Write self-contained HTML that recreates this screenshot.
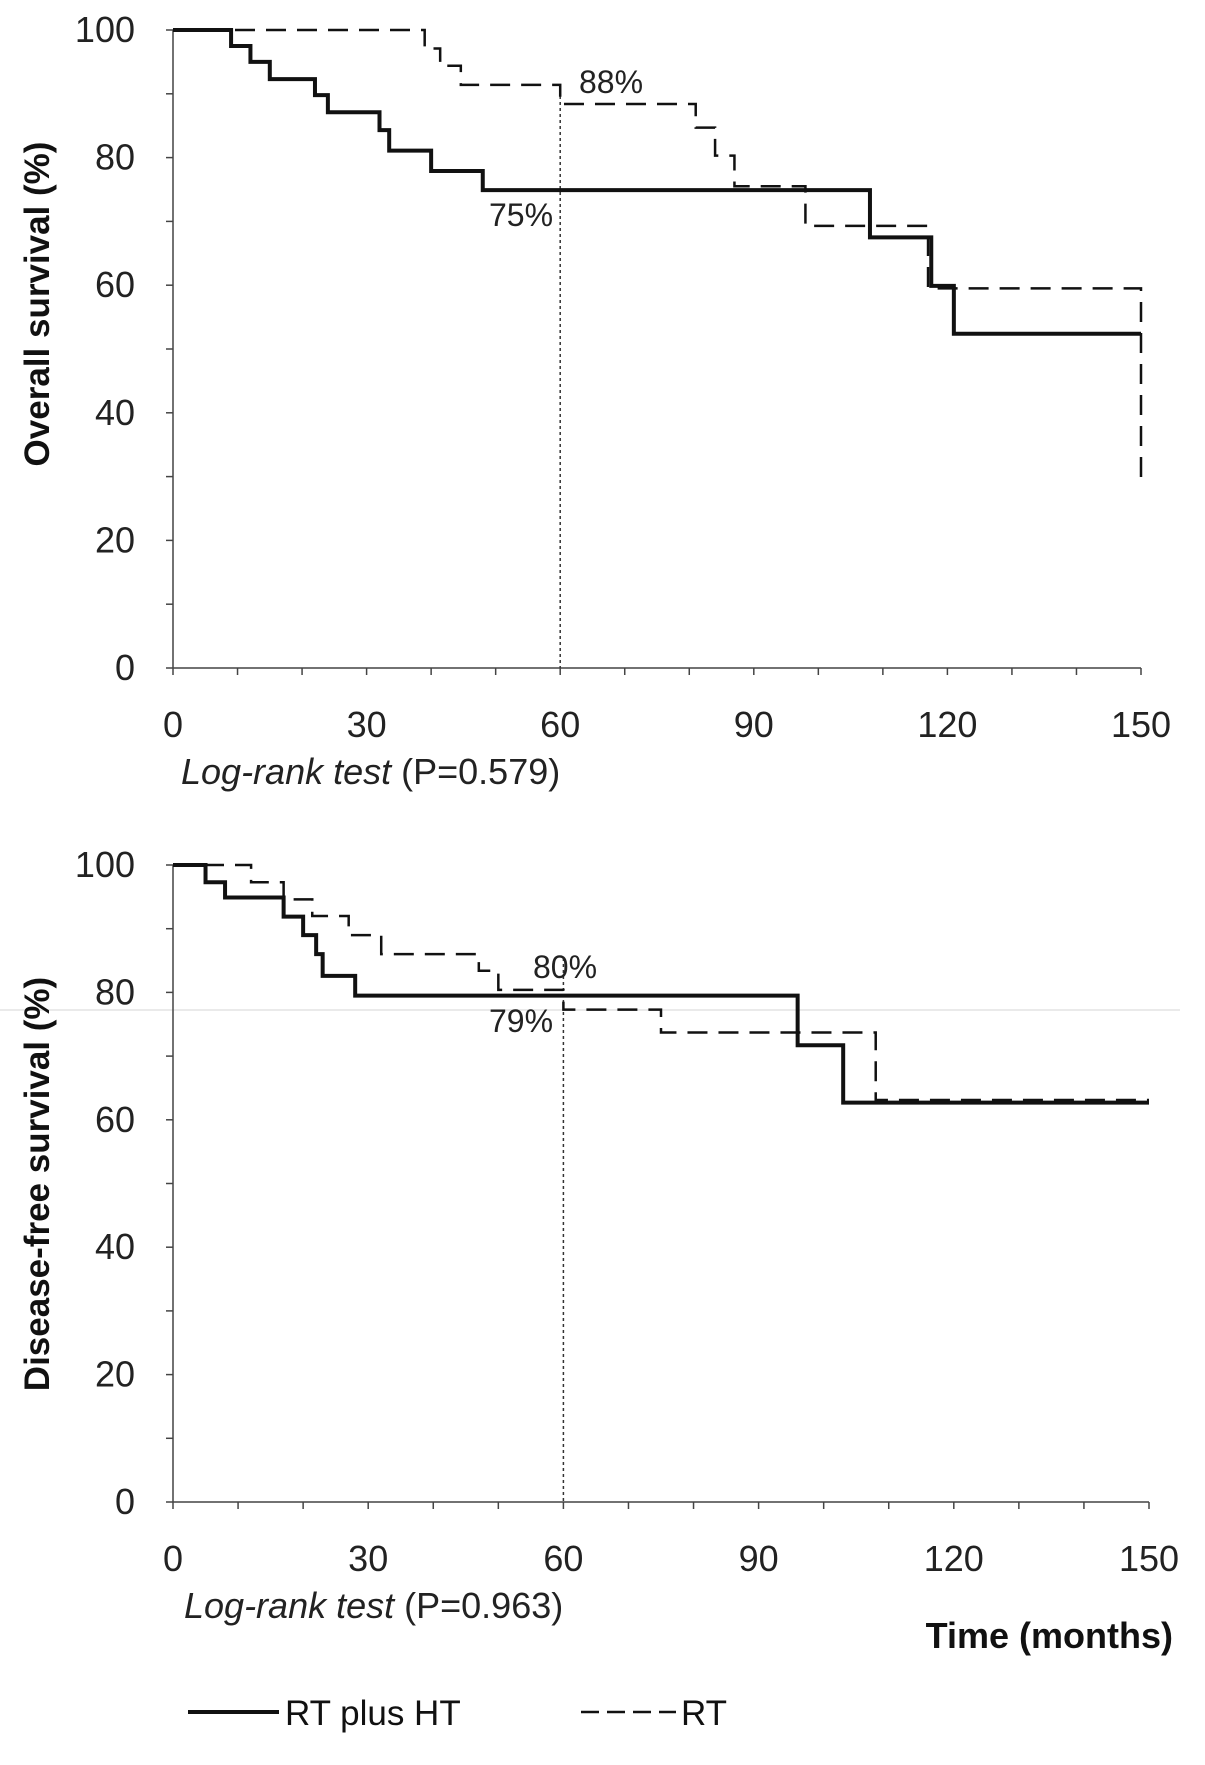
<!DOCTYPE html>
<html><head><meta charset="utf-8"><style>
html,body{margin:0;padding:0;background:#fff;}
svg{display:block;font-family:"Liberation Sans",sans-serif;}
</style></head><body>
<svg id="fig" width="1205" height="1765" viewBox="0 0 1205 1765">
<line x1="0" y1="1010" x2="1180" y2="1010" stroke="#e4e4e4" stroke-width="1.5"/>
<g id="p1"></g>
<g id="p2"></g>
<text x="1173" y="1648" text-anchor="end" font-size="36" font-weight="bold" fill="#111">Time (months)</text>
<g>
<g>
<line x1="188" y1="1712" x2="279" y2="1712" stroke="#111" stroke-width="4"/>
<text x="285" y="1725" font-size="35" fill="#111">RT plus HT</text></g>
<g>
<line x1="581" y1="1712" x2="676" y2="1712" stroke="#111" stroke-width="2.5" stroke-dasharray="18,8"/>
<text x="681" y="1725" font-size="35" fill="#111">RT</text></g>
</g>
</svg>
<script>
// Panel 1: overall survival
const os_solid_t = [0,9,12,15,22,24,32,33.5,40,48,108,117.5,121,150];
const os_solid_v = [100,97.5,95,92.3,89.8,87.1,84.3,81.1,77.9,74.9,67.5,59.9,52.4,52.4];
const os_dash_t = [0,39,41.4,44.6,60,81,84,87,98,117,150];
const os_dash_v = [100,97.1,94.4,91.4,88.4,84.7,80.3,75.5,69.3,59.5,59.5];
const os_dash_end = 29.5;
// Panel 2: disease-free survival
const dfs_solid_t = [0,5,8,17,20,22,23,28,96,103,150];
const dfs_solid_v = [100,97.3,94.9,91.9,89,86,82.6,79.5,71.7,62.7,62.7];
const dfs_dash_t = [0,12,17,21.4,27,32,47,50,60,75,108,150];
const dfs_dash_v = [100,97.3,94.6,92,89,86,83.4,80.4,77.3,73.7,63.1,63.1];
const xTicks = [0,30,60,90,120,150];
const yTicks = [0,20,40,60,80,100];

const NS='http://www.w3.org/2000/svg';
function mk(parent, tag, attrs, text){
  const e=document.createElementNS(NS,tag);
  for(const k in attrs) e.setAttribute(k,attrs[k]);
  if(text!==undefined) e.textContent=text;
  parent.appendChild(e); return e;
}
function stepPath(ts,vs,X,Y,end){
  let d='M'+X(ts[0])+','+Y(vs[0]);
  for(let i=1;i<ts.length;i++){ d+=' H'+X(ts[i])+' V'+Y(vs[i]); }
  if(end!==undefined) d+=' V'+Y(end);
  return d;
}
function panel(g,cfg){
  const X=t=>cfg.x0+(t/150)*(cfg.x1-cfg.x0);
  const Y=v=>cfg.y0-(v/100)*(cfg.y0-cfg.y1);
  const ax=mk(g,'g',{});
  
  
  mk(ax,'line',{x1:X(0),y1:Y(0),x2:X(0),y2:Y(100),stroke:'#444','stroke-width':1.5});
  mk(ax,'line',{x1:X(0),y1:Y(0),x2:X(150),y2:Y(0),stroke:'#444','stroke-width':1.5});
  for(let v=0;v<=100;v+=10) mk(ax,'line',{x1:X(0)-7,y1:Y(v),x2:X(0),y2:Y(v),stroke:'#444','stroke-width':1.5});
  for(let t=0;t<=150;t+=10) mk(ax,'line',{x1:X(t),y1:Y(0),x2:X(t),y2:Y(0)+7,stroke:'#444','stroke-width':1.5});
  yTicks.forEach(v=>{
    const tx=mk(ax,'text',{x:135,y:Y(v)+12,'text-anchor':'end','font-size':36,fill:'#222'},String(v));
    
    
  });
  xTicks.forEach(t=>{
    const tx=mk(ax,'text',{x:X(t),y:cfg.xl,'text-anchor':'middle','font-size':36,fill:'#222'},String(t));
    
    
  });
  const yt=mk(g,'text',{x:0,y:0,transform:'translate(49,'+cfg.ytY+') rotate(-90)','text-anchor':'middle','font-size':35,'font-weight':'bold',fill:'#111'},cfg.ytitle);
  
  
  const ref=mk(g,'line',{x1:X(60),y1:cfg.refTop,x2:X(60),y2:Y(0),stroke:'#333','stroke-width':1.5,'stroke-dasharray':'3,3'});
  
  
  const ds=mk(g,'path',{d:stepPath(cfg.dt,cfg.dv,X,Y,cfg.dend),fill:'none',stroke:'#111','stroke-width':2.5,'stroke-dasharray':'20,11'});
  
  
  const ss=mk(g,'path',{d:stepPath(cfg.st,cfg.sv,X,Y),fill:'none',stroke:'#111','stroke-width':4});
  
  
  cfg.ann.forEach(a=>{
    const tx=mk(g,'text',{x:a[0],y:a[1],'font-size':32,fill:'#222'},a[2]);
    
    
  });
  const lr=mk(g,'text',{x:cfg.lr[0],y:cfg.lr[1],'font-size':36,fill:'#222'});
  
  
  mk(lr,'tspan',{'font-style':'italic'},'Log-rank test');
  mk(lr,'tspan',{},' (P='+cfg.p+')');
}
panel(document.getElementById('p1'),{x0:173,x1:1141,y0:668,y1:30,xl:737,ytitle:'Overall survival (%)',ytY:304,refTop:84,
  st:os_solid_t,sv:os_solid_v,dt:os_dash_t,dv:os_dash_v,dend:os_dash_end,
  ann:[[579,93,'88%'],[489,226,'75%']],lr:[181,784],p:'0.579'});
panel(document.getElementById('p2'),{x0:173,x1:1149,y0:1502,y1:865,xl:1571,ytitle:'Disease-free survival (%)',ytY:1184,refTop:958,
  st:dfs_solid_t,sv:dfs_solid_v,dt:dfs_dash_t,dv:dfs_dash_v,
  ann:[[533,978,'80%'],[489,1032,'79%']],lr:[184,1618],p:'0.963'});
</script>
</body></html>
